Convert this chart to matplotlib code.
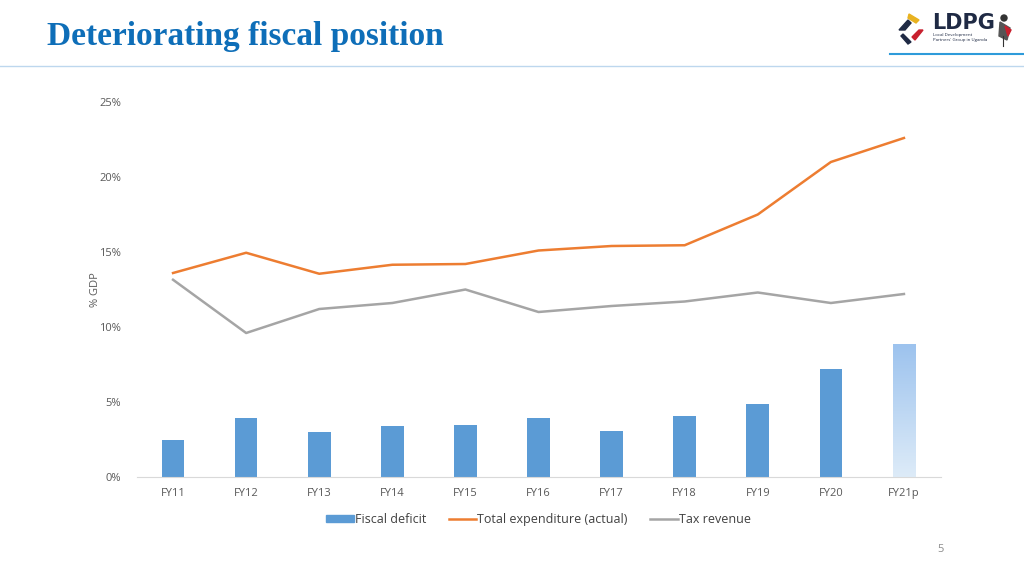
import numpy as np
import matplotlib.pyplot as plt
from matplotlib.patches import Polygon, Circle
from matplotlib.colors import LinearSegmentedColormap

years = ["FY11", "FY12", "FY13", "FY14", "FY15", "FY16", "FY17", "FY18", "FY19", "FY20", "FY21p"]
fiscal_deficit = [2.45, 3.95, 3.0, 3.4, 3.5, 3.95, 3.1, 4.05, 4.85, 7.2, 8.85]
total_expenditure = [13.6, 14.95, 13.55, 14.15, 14.2, 15.1, 15.4, 15.45, 17.5, 21.0, 22.6]
tax_revenue = [13.15, 9.6, 11.2, 11.6, 12.5, 11.0, 11.4, 11.7, 12.3, 11.6, 12.2]

plt.rcParams['font.family'] = ['Open Sans', 'DejaVu Sans']

fig = plt.figure(figsize=(10.24, 5.76), dpi=100)

# slide header
fig.text(0.046, 1 - 36 / 576, "Deteriorating fiscal position", fontsize=24, fontweight='bold',
         color='#0E6EB8', family='Liberation Serif', va='center', ha='left')
fig.add_artist(plt.Line2D([0, 1], [1 - 66 / 576] * 2, color='#BDD7EE', lw=1))
fig.add_artist(plt.Line2D([890 / 1024, 1], [1 - 54 / 576] * 2, color='#2E9BDA', lw=1.5))

# logo (approximation)
lax = fig.add_axes([895 / 1024, 1 - 48 / 576, 125 / 1024, 42 / 576])
lax.set_xlim(0, 125)
lax.set_ylim(42, 0)
lax.axis('off')
lax.add_patch(Polygon([[4, 24], [13, 14], [16, 17], [10, 24]], color='#1F2A44'))
lax.add_patch(Polygon([[14, 8], [24, 14], [21, 17], [13, 12]], color='#E8B220'))
lax.add_patch(Polygon([[28, 24], [20, 34], [17, 31], [24, 24]], color='#C8202E'))
lax.add_patch(Polygon([[8, 28], [16, 36], [13, 38], [6, 30]], color='#1F2A44'))
lax.text(37, 17, "LDPG", fontsize=15, fontweight='bold', color='#1F2A44', va='center',
         family='DejaVu Sans')
lax.text(38, 29, "Local Development", fontsize=3.2, color='#1F2A44', va='center')
lax.text(38, 34, "Partners' Group in Uganda", fontsize=3.2, color='#1F2A44', va='center')
lax.add_patch(Circle((109, 12), 3, color='#333333'))
lax.add_patch(Polygon([[105, 16], [115, 22], [112, 34], [104, 30]], color='#555555'))
lax.add_patch(Polygon([[110, 20], [116, 24], [113, 30]], color='#C8202E'))
lax.plot([108, 108], [30, 40], color='#333333', lw=0.8)

fig.text(941 / 1024, 1 - 549 / 576, "5", fontsize=8, color='#8C8C8C', ha='center', va='center')

# chart
ax = fig.add_axes([136.5 / 1024, 1 - 477 / 576, 804 / 1024, 375 / 576])
x = np.arange(len(years))
bars = ax.bar(x, fiscal_deficit, width=0.31, color='#5B9BD5', label='Fiscal deficit', zorder=2)

# gradient fill for the projected year
last = bars[-1]
last.set_alpha(0)
grad = np.linspace(0, 1, 100).reshape(-1, 1)
cmap = LinearSegmentedColormap.from_list('g', ['#DDEBF8', '#9DC3EE'])
bx, bw, bh = last.get_x(), last.get_width(), last.get_height()
ax.imshow(grad, extent=[bx, bx + bw, 0, bh], origin='lower', cmap=cmap, aspect='auto', zorder=2)

l1, = ax.plot(x, total_expenditure, color='#ED7D31', lw=1.8, label='Total expenditure (actual)', zorder=3)
l2, = ax.plot(x, tax_revenue, color='#A5A5A5', lw=1.8, label='Tax revenue', zorder=3)

ax.set_xlim(-0.5, len(years) - 0.5)
ax.set_ylim(0, 25)
ax.set_yticks([0, 5, 10, 15, 20, 25])
ax.set_yticklabels(["0%", "5%", "10%", "15%", "20%", "25%"])
ax.set_xticks(x)
ax.set_xticklabels(years)
ax.tick_params(axis='both', length=0, labelsize=8, labelcolor='#595959')
ax.tick_params(axis='y', pad=11)
ax.tick_params(axis='x', pad=8)
for s in ['top', 'right', 'left']:
    ax.spines[s].set_visible(False)
ax.spines['bottom'].set_color('#D9D9D9')
ax.set_ylabel("% GDP", fontsize=8, color='#595959', labelpad=-1)

bar_handle = plt.Rectangle((0, 0), 1, 1, color='#5B9BD5')
leg = ax.legend([bar_handle, l1, l2], ['Fiscal deficit', 'Total expenditure (actual)', 'Tax revenue'],
                loc='upper center', bbox_to_anchor=(0.5, -0.065), ncol=3, frameon=False,
                fontsize=9, labelcolor='#404040', handlelength=2.2, handleheight=0.5,
                handletextpad=0.1, columnspacing=1.8)

fig.savefig("out.png", dpi=100)
